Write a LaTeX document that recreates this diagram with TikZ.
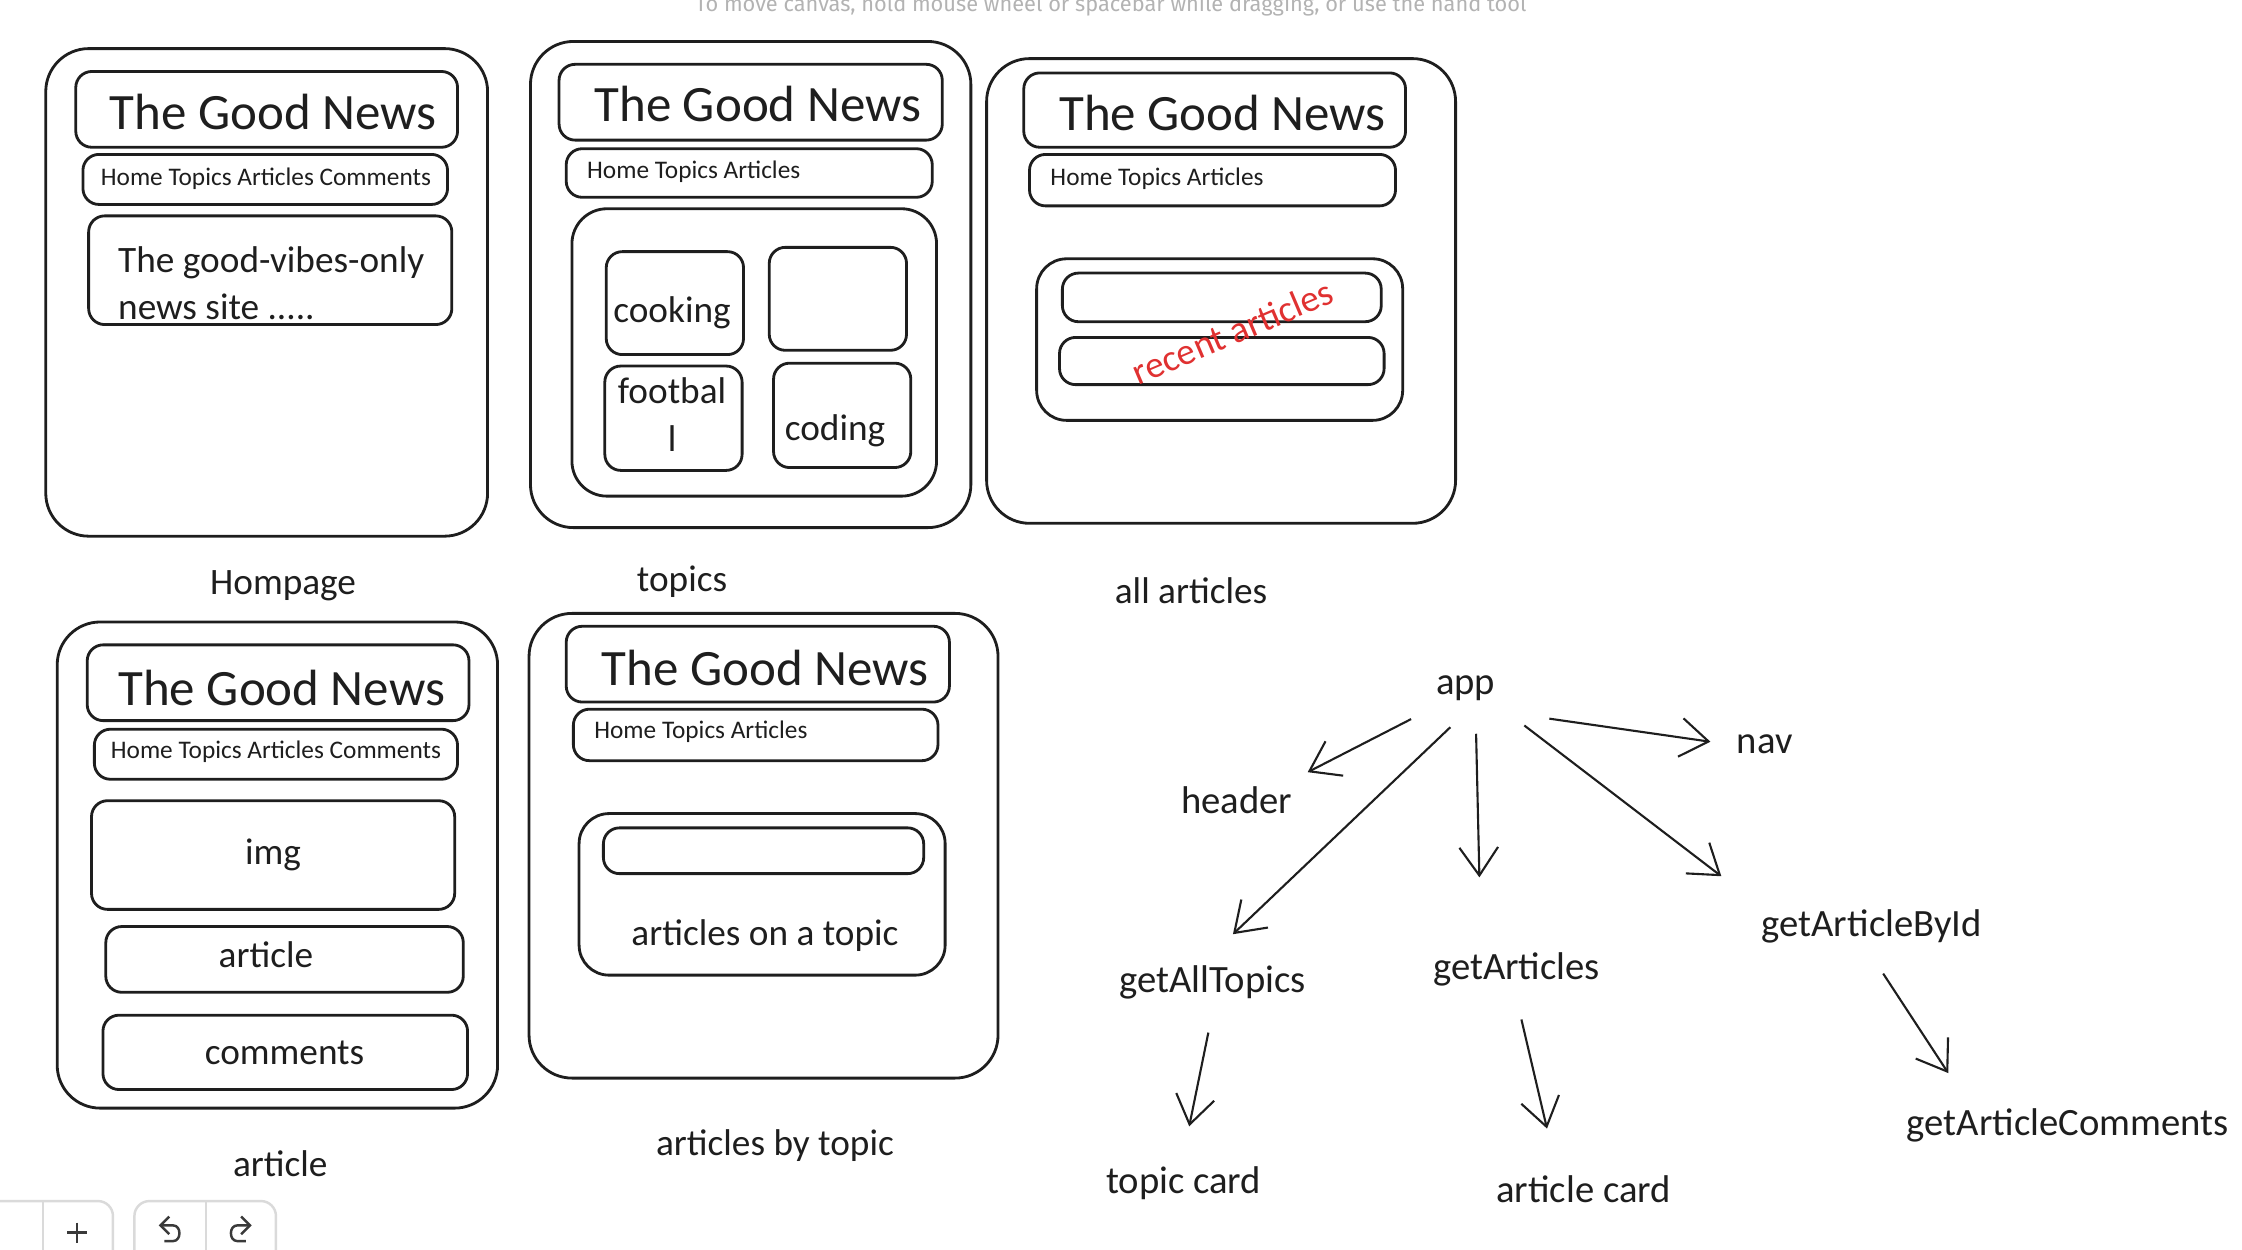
\documentclass[tikz,border=0pt]{standalone}
\usepackage{fontspec}
\setmainfont{Carlito}
\newfontfamily\hintfont{Fira Sans}
\usetikzlibrary{positioning,arrows.meta,calc}
\definecolor{ink}{HTML}{1E1E1E}
\definecolor{sketchred}{HTML}{E03131}
\definecolor{hintgrey}{HTML}{B3B3B3}
\definecolor{toolgrey}{HTML}{DADADA}
\definecolor{iconink}{HTML}{3A3A3A}

\tikzset{
  frame/.style={draw=ink, line width=0.8pt, rounded corners=0.43cm},
  box/.style={draw=ink, line width=0.8pt, rounded corners=0.16cm},
  title/.style={text=ink, font=\fontsize{14.5}{17}\selectfont},
  navtxt/.style={text=ink, font=\fontsize{7.2}{9}\selectfont},
  lbl/.style={text=ink, font=\fontsize{10.6}{13.5}\selectfont},
  fn/.style={text=ink, font=\fontsize{11}{13}\selectfont},
  arr/.style={draw=ink, line width=0.6pt, -{Straight Barb[length=8pt,width=11pt]}},
  toolbox/.style={draw=toolgrey, line width=0.7pt, rounded corners=0.15cm},
}

\begin{document}
\begin{tikzpicture}[x=0.014298cm, y=-0.014298cm]
   \clip (0,0) rectangle (1568,874);

   % canvas hint
   \node[anchor=base, text=hintgrey, font=\hintfont\fontsize{6.2}{7}\selectfont] (hint) at (777,8)
      {To move canvas, hold mouse wheel or spacebar while dragging, or use the hand tool};

   % homepage
   \draw[frame] (32,34) rectangle (341,375);
   \draw[box] (53,50) rectangle (320,103);
   \node[title] (hp-title) at (191,78) {The Good News};
   \draw[box] (58,108) rectangle (313,143);
   \node[navtxt] (hp-nav) at (186,125) {Home Topics Articles Comments};
   \draw[box] (62,151) rectangle (316,227);
   \node[lbl, align=left, anchor=west] (hp-intro) at (74,198) {The good-vibes-only\\news site .....};
   \node[lbl] (hp-name) at (198,410) {Hompage};

   % topics
   \draw[frame] (371,29) rectangle (679,369);
   \draw[box] (391,45) rectangle (659,98);
   \node[title] (tp-title) at (530,73) {The Good News};
   \draw[box] (396,104) rectangle (652,138);
   \node[navtxt, anchor=west] (tp-nav) at (402,120) {Home Topics Articles};
   \draw[box, rounded corners=0.35cm] (400,146) rectangle (655,347);
   \draw[box] (424,176) rectangle (520,248);
   \node[lbl] (tp-cooking) at (470,219) {cooking};
   \draw[box] (538,173) rectangle (634,245);
   \draw[box] (423,256) rectangle (519,329);
   \node[lbl, align=center] (tp-football) at (470,290) {footbal\\l};
   \draw[box] (541,254) rectangle (637,327);
   \node[lbl] (tp-coding) at (584,301) {coding};
   \node[lbl] (tp-name) at (477,407) {topics};

   % all articles
   \draw[frame] (690,41) rectangle (1018,366);
   \draw[box] (716,51) rectangle (983,103);
   \node[title] (aa-title) at (855,79) {The Good News};
   \draw[box] (720,108) rectangle (976,144);
   \node[navtxt, anchor=west] (aa-nav) at (726,125) {Home Topics Articles};
   \draw[box, rounded corners=0.3cm] (725,181) rectangle (981,294);
   \draw[box] (743,191) rectangle (966,225);
   \draw[box] (741,236) rectangle (968,269);
   \node[lbl, text=sketchred, rotate=23] (aa-recent) at (862,232) {recent articles};
   \node[lbl] (aa-name) at (833,413) {all articles};

   % article
   \draw[frame] (40,435) rectangle (348,775);
   \draw[box] (61,451) rectangle (328,504);
   \node[title] (ar-title) at (197,481) {The Good News};
   \draw[box] (66,510) rectangle (320,545);
   \node[navtxt] (ar-nav) at (193,526) {Home Topics Articles Comments};
   \draw[box] (64,560) rectangle (318,636);
   \node[lbl] (ar-img) at (191,598) {img};
   \draw[box] (74,648) rectangle (324,694);
   \node[lbl] (ar-body) at (186,668) {article};
   \draw[box] (72,710) rectangle (327,762);
   \node[lbl] (ar-comments) at (199,736) {comments};
   \node[lbl] (ar-name) at (196,814) {article};

   % articles by topic
   \draw[frame] (370,429) rectangle (698,754);
   \draw[box] (396,438) rectangle (664,491);
   \node[title] (at-title) at (535,467) {The Good News};
   \draw[box] (401,496) rectangle (656,532);
   \node[navtxt, anchor=west] (at-nav) at (407,512) {Home Topics Articles};
   \draw[box, rounded corners=0.3cm] (405,569) rectangle (661,682);
   \draw[box] (422,579) rectangle (646,611);
   \node[lbl] (at-list) at (535,654) {articles on a topic};
   \node[lbl] (at-name) at (542,801) {articles by topic};

   % component tree
   \node[fn] (app) at (1025,481) {app};
   \node[fn, on grid, below right=0.56cm and 2.99cm of app] (nav) {nav};
   \node[fn, on grid, below left=1.12cm and 2.29cm of app] (header) {header};
   \node[fn, on grid, below left=2.95cm and 2.53cm of app] (alltopics) {getAllTopics};
   \node[fn, on grid, below right=2.82cm and 0.51cm of app] (articles) {getArticles};
   \node[fn, on grid, below right=2.39cm and 4.06cm of app] (byid) {getArticleById};
   \node[fn, on grid, below left=2.00cm and 0.29cm of alltopics] (topiccard) {topic card};
   \node[fn, on grid, below right=2.19cm and 0.67cm of articles] (articlecard) {article card};
   \node[fn, on grid, below right=1.99cm and 1.96cm of byid] (comments) {getArticleComments};

   \draw[arr, shorten <=12pt, shorten >=4pt] (app.south east) -- (nav.west);
   \draw[arr, shorten <=4pt, shorten >=1pt] (app.south west) -- (header.north east);
   \draw[arr, shorten <=6pt, shorten >=8pt] (app.south) -- (alltopics.north);
   \draw[arr, shorten <=6pt, shorten >=18pt] (app.south) ++(7,0) -- ($(articles.north)+(-25,0)$);
   \draw[arr, shorten <=6pt, shorten >=10pt] (app.south east) -- (byid.north west);
   \draw[arr, shorten <=6pt, shorten >=8pt] (alltopics.south) -- (topiccard.north);
   \draw[arr, shorten <=6pt, shorten >=10pt] (articles.south) -- ($(articlecard.north)+(-20,0)$);
   \draw[arr, shorten <=6pt, shorten >=8pt] (byid.south) -- ($(comments.north)!0.6!(comments.north west)$);

   % toolbar
   \draw[toolbox] (-40,840) rectangle (79,900);
   \draw[toolgrey, line width=0.7pt] (30,840) -- (30,874);
   \draw[iconink, line width=0.7pt] (47,862) -- (61,862) (54,855) -- (54,869);
   \draw[toolbox] (94,840) rectangle (193,900);
   \draw[toolgrey, line width=0.7pt] (144,840) -- (144,874);
   \draw[iconink, line width=0.7pt, -{Straight Barb[length=2.5pt,width=5pt]}]
      (115,868) -- (121,868) .. controls (127,868) and (127,857) .. (121,857) -- (111,857);
   \draw[iconink, line width=0.7pt, -{Straight Barb[length=2.5pt,width=5pt]}]
      (172,868) -- (166,868) .. controls (160,868) and (160,857) .. (166,857) -- (176,857);
\end{tikzpicture}
\end{document}
